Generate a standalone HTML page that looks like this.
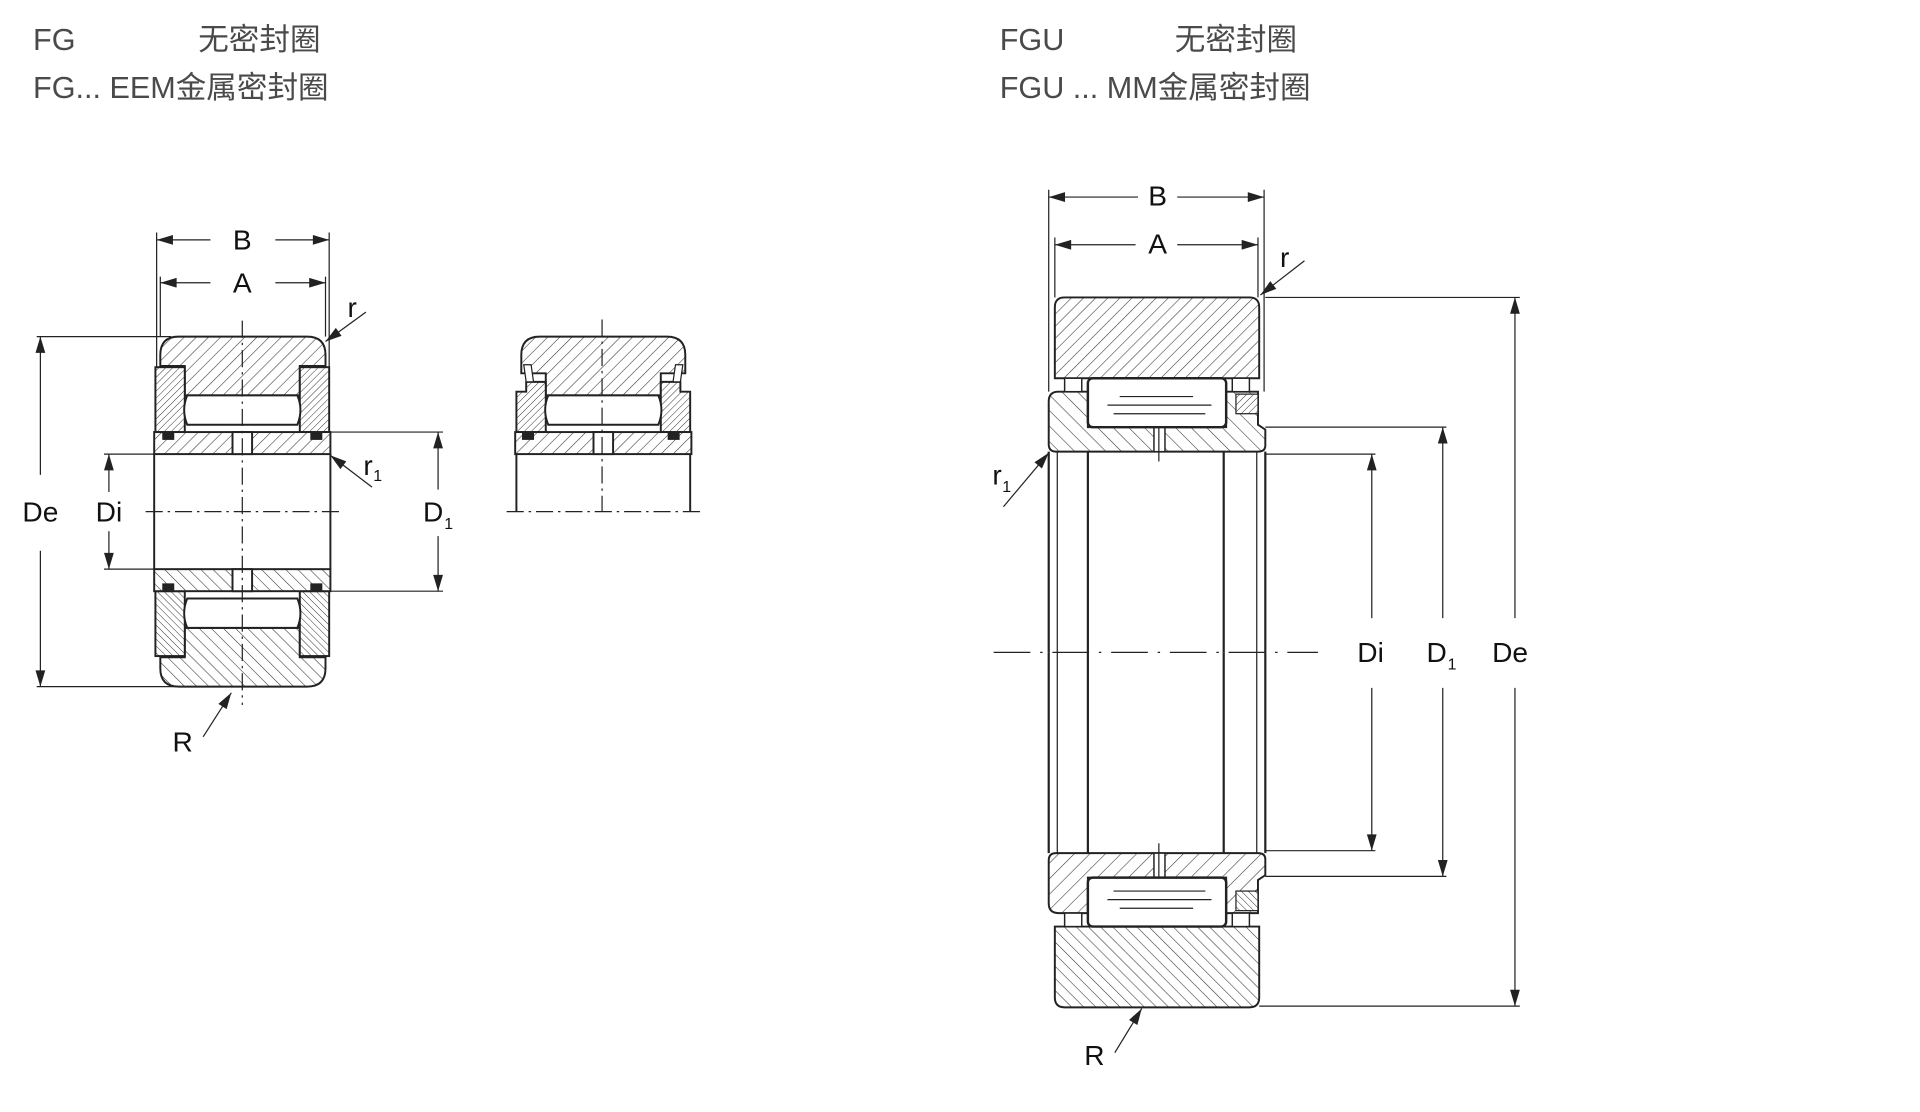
<!DOCTYPE html>
<html><head><meta charset="utf-8"><style>
html,body{margin:0;padding:0;background:#fff;}
svg{display:block;}
.t{font-family:"Liberation Sans","Noto Sans CJK SC",sans-serif;fill:#4a4a4a;font-size:25px;}
.l{font-family:"Liberation Sans",sans-serif;fill:#111;font-size:23px;}
.s{font-family:"Liberation Sans",sans-serif;fill:#111;font-size:13px;}
</style></head><body>
<svg width="1920" height="1112" viewBox="0 0 1569 908.5" preserveAspectRatio="none" xmlns="http://www.w3.org/2000/svg">
<defs>
<pattern id="h" patternUnits="userSpaceOnUse" width="7" height="7" patternTransform="rotate(45)">
<rect width="7" height="7" fill="#fff"/><line x1="0" y1="0" x2="0" y2="7" stroke="#333" stroke-width="0.9"/></pattern>
<pattern id="h2" patternUnits="userSpaceOnUse" width="9" height="9" patternTransform="rotate(-45)">
<rect width="9" height="9" fill="#fff"/><line x1="0" y1="0" x2="0" y2="9" stroke="#333" stroke-width="0.9"/></pattern>
<pattern id="h3" patternUnits="userSpaceOnUse" width="4" height="4" patternTransform="rotate(45)">
<rect width="4" height="4" fill="#fff"/><line x1="0" y1="0" x2="0" y2="4" stroke="#333" stroke-width="0.8"/></pattern>
<marker id="ar" viewBox="0 0 10 6" refX="10" refY="3" markerWidth="18" markerHeight="8" markerUnits="userSpaceOnUse" orient="auto"><path d="M0,0 L10,3 L0,6 Z" fill="#222"/></marker>

<g id="LT" stroke="#222" stroke-width="1.6">
<path d="M131,299 L131,290 Q131,275 146,275 L251,275 Q266,275 266,290 L266,299 L245,299 L245,323 L151,323 L151,299 Z" fill="url(#h)"/>
<rect x="127" y="300" width="24" height="53" fill="url(#h3)"/>
<rect x="245" y="300" width="24" height="53" fill="url(#h3)"/>
<path d="M153,323 L243,323 Q248,335 243,347 L153,347 Q148,335 153,323 Z" fill="#fff"/>
<rect x="126" y="353" width="144" height="18" fill="url(#h)"/>
<rect x="190" y="353" width="16" height="18" fill="#fff"/>
<rect x="133" y="354" width="9" height="5" fill="#222" stroke-width="0.8"/>
<rect x="254" y="354" width="9" height="5" fill="#222" stroke-width="0.8"/>
<line x1="126" y1="371" x2="126" y2="418"/><line x1="270" y1="371" x2="270" y2="418"/>
</g>

<g id="ST" stroke="#222" stroke-width="1.6">
<path d="M426,305 L426,290 Q426,275 441,275 L545,275 Q560,275 560,290 L560,305 L540,305 L540,323 L446,323 L446,305 Z" fill="url(#h)"/>
<path d="M422,320 L430,320 L430,312 L446,312 L446,353 L422,353 Z" fill="url(#h3)"/>
<path d="M564,320 L556,320 L556,312 L540,312 L540,353 L564,353 Z" fill="url(#h3)"/>
<path d="M428,298 L434,298 L436,312 L430,312 Z" fill="#fff" stroke-width="1"/>
<path d="M558,298 L552,298 L550,312 L556,312 Z" fill="#fff" stroke-width="1"/>
<path d="M448,323 L538,323 Q543,335 538,347 L448,347 Q443,335 448,323 Z" fill="#fff"/>
<rect x="421" y="353" width="144" height="18" fill="url(#h)"/>
<rect x="485" y="353" width="16" height="18" fill="#fff"/>
<rect x="427" y="354" width="9" height="5" fill="#222" stroke-width="0.8"/>
<rect x="546" y="354" width="9" height="5" fill="#222" stroke-width="0.8"/>
<line x1="422" y1="371" x2="422" y2="418"/><line x1="564" y1="371" x2="564" y2="418"/>
</g>

<g id="RT" stroke="#222" stroke-width="1.6">
<path d="M862,309 L862,251 Q862,243 870,243 L1021,243 Q1029,243 1029,251 L1029,309 Z" fill="url(#h)"/>
<path d="M857,328 Q857,320 865,320 L889,320 L889,349 L1002,349 L1002,320 L1028,320 L1028,347 L1034,351 L1034,364 Q1034,369 1028,369 L863,369 Q857,369 857,363 Z" fill="url(#h2)"/>
<rect x="870" y="309" width="14" height="11" fill="#fff" stroke-width="1.2"/>
<rect x="1007" y="309" width="14" height="11" fill="#fff" stroke-width="1.2"/>
<rect x="1010" y="322" width="18" height="16" fill="url(#h3)" stroke-width="1"/>
<rect x="943" y="349" width="9" height="20" fill="#fff" stroke-width="1.2"/>
<line x1="947" y1="345" x2="947" y2="377" stroke-width="1"/>
<rect x="889" y="309" width="113" height="40" rx="4" fill="#fff" stroke-width="2"/>
<line x1="915" y1="324" x2="975" y2="324" stroke-width="1"/>
<line x1="905" y1="331" x2="990" y2="331" stroke-width="1"/>
<line x1="910" y1="338" x2="985" y2="338" stroke-width="1"/>
<g stroke-width="1.8"><line x1="857" y1="369" x2="857" y2="533"/><line x1="1034" y1="369" x2="1034" y2="533"/>
<line x1="889" y1="369" x2="889" y2="533"/><line x1="1000" y1="369" x2="1000" y2="533"/></g>
<g stroke-width="1"><line x1="864" y1="369" x2="864" y2="533"/><line x1="1027" y1="369" x2="1027" y2="533"/></g>
</g>
</defs>

<text class="t" x="27" y="41">FG</text>
<text class="t" x="162" y="41">无密封圈</text>
<text class="t" x="27" y="80">FG... EEM金属密封圈</text>
<text class="t" x="817" y="41">FGU</text>
<text class="t" x="960" y="41">无密封圈</text>
<text class="t" x="817" y="80">FGU ... MM金属密封圈</text>

<use href="#LT"/>
<use href="#LT" transform="translate(0,836) scale(1,-1)"/>
<use href="#ST"/>
<g stroke="#222" stroke-width="1" fill="none">
<line x1="198" y1="262" x2="198" y2="576" stroke-dasharray="14,4,2,4"/>
<line x1="119" y1="418" x2="277" y2="418" stroke-dasharray="14,4,2,4"/>
<line x1="492" y1="261" x2="492" y2="418" stroke-dasharray="14,4,2,4"/>
<line x1="414" y1="418" x2="572" y2="418" stroke-dasharray="14,4,2,4"/>
<line x1="128" y1="190" x2="128" y2="300"/><line x1="269" y1="190" x2="269" y2="300"/>
<line x1="131" y1="226" x2="131" y2="275"/><line x1="266" y1="226" x2="266" y2="275"/>
<line x1="172" y1="196" x2="128" y2="196" marker-end="url(#ar)"/><line x1="225" y1="196" x2="269" y2="196" marker-end="url(#ar)"/>
<line x1="172" y1="231" x2="131" y2="231" marker-end="url(#ar)"/><line x1="225" y1="231" x2="266" y2="231" marker-end="url(#ar)"/>
<line x1="30" y1="275" x2="140" y2="275"/><line x1="30" y1="561" x2="190" y2="561"/>
<line x1="33" y1="388" x2="33" y2="275" marker-end="url(#ar)"/><line x1="33" y1="450" x2="33" y2="561" marker-end="url(#ar)"/>
<line x1="85" y1="371" x2="126" y2="371"/><line x1="85" y1="465" x2="126" y2="465"/>
<line x1="89" y1="402" x2="89" y2="371" marker-end="url(#ar)"/><line x1="89" y1="434" x2="89" y2="465" marker-end="url(#ar)"/>
<line x1="270" y1="353" x2="362" y2="353"/><line x1="270" y1="483" x2="362" y2="483"/>
<line x1="358" y1="400" x2="358" y2="353" marker-end="url(#ar)"/><line x1="358" y1="438" x2="358" y2="483" marker-end="url(#ar)"/>
<line x1="299" y1="255" x2="266" y2="279" marker-end="url(#ar)"/>
<line x1="304" y1="398" x2="270" y2="372" marker-end="url(#ar)"/>
<line x1="166" y1="602" x2="189" y2="566" marker-end="url(#ar)"/>
</g>
<text class="l" x="198" y="204" text-anchor="middle">B</text>
<text class="l" x="198" y="239" text-anchor="middle">A</text>
<text class="l" x="33" y="426" text-anchor="middle">De</text>
<text class="l" x="89" y="426" text-anchor="middle">Di</text>
<text class="l" x="354" y="426" text-anchor="middle">D</text><text class="s" x="363" y="432">1</text>
<text class="l" x="284" y="259">r</text>
<text class="l" x="297" y="388">r</text><text class="s" x="305" y="393">1</text>
<text class="l" x="141" y="614">R</text>

<use href="#RT"/>
<use href="#RT" transform="translate(0,1066) scale(1,-1)"/>
<g stroke="#222" stroke-width="1" fill="none">
<line x1="812" y1="533" x2="1077" y2="533" stroke-dasharray="30,8,2,8"/>
<line x1="857" y1="155" x2="857" y2="320"/><line x1="1033" y1="155" x2="1033" y2="320"/>
<line x1="862" y1="194" x2="862" y2="243"/><line x1="1028" y1="194" x2="1028" y2="243"/>
<line x1="930" y1="161" x2="857" y2="161" marker-end="url(#ar)"/><line x1="962" y1="161" x2="1033" y2="161" marker-end="url(#ar)"/>
<line x1="928" y1="200" x2="862" y2="200" marker-end="url(#ar)"/><line x1="962" y1="200" x2="1028" y2="200" marker-end="url(#ar)"/>
<line x1="1034" y1="243" x2="1242" y2="243"/><line x1="1029" y1="822" x2="1242" y2="822"/>
<line x1="1238" y1="505" x2="1238" y2="243" marker-end="url(#ar)"/><line x1="1238" y1="562" x2="1238" y2="822" marker-end="url(#ar)"/>
<line x1="1034" y1="349" x2="1182" y2="349"/><line x1="1034" y1="716" x2="1182" y2="716"/>
<line x1="1179" y1="505" x2="1179" y2="349" marker-end="url(#ar)"/><line x1="1179" y1="562" x2="1179" y2="716" marker-end="url(#ar)"/>
<line x1="1034" y1="371" x2="1124" y2="371"/><line x1="1034" y1="695" x2="1124" y2="695"/>
<line x1="1121" y1="505" x2="1121" y2="371" marker-end="url(#ar)"/><line x1="1121" y1="562" x2="1121" y2="695" marker-end="url(#ar)"/>
<line x1="1066" y1="213" x2="1030" y2="241" marker-end="url(#ar)"/>
<line x1="820" y1="414" x2="857" y2="370" marker-end="url(#ar)"/>
<line x1="911" y1="860" x2="933" y2="824" marker-end="url(#ar)"/>
</g>
<text class="l" x="946" y="168" text-anchor="middle">B</text>
<text class="l" x="946" y="207" text-anchor="middle">A</text>
<text class="l" x="1120" y="541" text-anchor="middle">Di</text>
<text class="l" x="1174" y="541" text-anchor="middle">D</text><text class="s" x="1183" y="547">1</text>
<text class="l" x="1234" y="541" text-anchor="middle">De</text>
<text class="l" x="1046" y="218">r</text>
<text class="l" x="811" y="396">r</text><text class="s" x="819" y="402">1</text>
<text class="l" x="886" y="870">R</text>
</svg>
</body></html>
